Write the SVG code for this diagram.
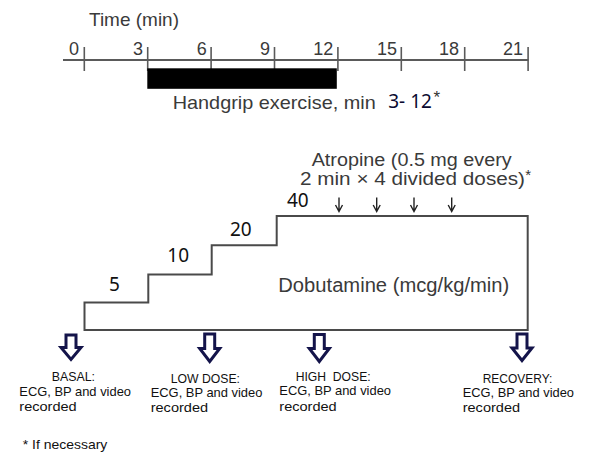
<svg xmlns="http://www.w3.org/2000/svg" width="594" height="458" viewBox="0 0 594 458">
<style>
.ax{stroke:#5a5a5a;stroke-width:2;fill:none}
.tk{stroke:#5a5a5a;stroke-width:1.6}
.lbl{font-family:"Liberation Sans",Arial,sans-serif;fill:#3a3a3a}
.num{font-family:"Liberation Sans",Arial,sans-serif;font-size:18px;fill:#3a3a3a;text-anchor:end}
.dose{font-family:"Noto Sans","DejaVu Sans",sans-serif;font-size:19px;fill:#111}
.cap{font-family:"Liberation Sans",Arial,sans-serif;font-size:13px;fill:#111}
.big{fill:#fff;stroke:#14144a;stroke-width:3;stroke-linejoin:miter}
.sm{stroke:#222;stroke-width:1.4;fill:none}
</style>
<rect width="594" height="458" fill="#fff"/>
<g id="timeline">
<text class="lbl" x="89" y="26" font-size="19" textLength="90" lengthAdjust="spacingAndGlyphs">Time (min)</text>
<line class="ax" x1="63" y1="60" x2="528.5" y2="60"/>
<g class="tk">
<line x1="84.3" y1="47" x2="84.3" y2="71"/>
<line x1="147.7" y1="47" x2="147.7" y2="71"/>
<line x1="211.1" y1="47" x2="211.1" y2="71"/>
<line x1="274.5" y1="47" x2="274.5" y2="71"/>
<line x1="337.9" y1="47" x2="337.9" y2="71"/>
<line x1="401.3" y1="47" x2="401.3" y2="71"/>
<line x1="464.7" y1="47" x2="464.7" y2="71"/>
<line x1="528.1" y1="47" x2="528.1" y2="71"/>
</g>
<text class="num" x="79" y="54.5">0</text>
<text class="num" x="143" y="54.5">3</text>
<text class="num" x="206.7" y="54.5">6</text>
<text class="num" x="270" y="54.5">9</text>
<text class="num" x="333.3" y="54.5">12</text>
<text class="num" x="397" y="54.5">15</text>
<text class="num" x="459" y="54.5">18</text>
<text class="num" x="523" y="54.5">21</text>
</g>
<g id="handgrip">
<rect x="147.3" y="68.3" width="189.5" height="20.5" fill="#000"/>
<text class="lbl" x="172.7" y="109" font-size="19" textLength="203" lengthAdjust="spacingAndGlyphs">Handgrip exercise, min</text>
<text x="388.3" y="108" font-family="'Noto Sans','DejaVu Sans',sans-serif" font-size="20" fill="#0a0a30" textLength="43.5" lengthAdjust="spacingAndGlyphs">3- 12</text>
<text x="433.5" y="103" font-family="'Liberation Sans',Arial,sans-serif" font-size="17" fill="#333">*</text>
</g>
<g id="atropine">
<text class="lbl" x="311.7" y="166.2" font-size="18" textLength="200" lengthAdjust="spacingAndGlyphs">Atropine (0.5 mg every</text>
<text class="lbl" x="300" y="185" font-size="18" textLength="225" lengthAdjust="spacingAndGlyphs">2 min × 4 divided doses)</text>
<text x="525.3" y="180" font-family="'Liberation Sans',Arial,sans-serif" font-size="15" fill="#333">*</text>
</g>
<g id="dobutamine">
<path d="M84.5,330 V302.5 H148.3 V274.5 H211.7 V245.3 H276.7 V216 H527.7 V330 Z" fill="none" stroke="#4a4a4a" stroke-width="2"/>
<text class="lbl" x="278.3" y="291.7" font-size="20" textLength="231" lengthAdjust="spacingAndGlyphs">Dobutamine (mcg/kg/min)</text>
<text class="dose" x="109" y="290.7">5</text>
<text class="dose" x="167.3" y="261.7">10</text>
<text class="dose" x="230" y="235.7">20</text>
<text class="dose" x="287" y="207">40</text>
</g>
<g id="connectors">
<g class="sm">
<path d="M339,197.5 V211.5 M335.5,205 L339,211.5 L342.5,205"/>
<path d="M376.7,197.5 V211.5 M373.2,205 L376.7,211.5 L380.2,205"/>
<path d="M414,197.5 V211.5 M410.5,205 L414,211.5 L417.5,205"/>
<path d="M451.7,197.5 V211.5 M448.2,205 L451.7,211.5 L455.2,205"/>
</g>
<path class="big" d="M66,335 V347.5 H61 L71,359.5 L81,347.5 H76 V335 Z"/>
<path class="big" d="M204.7,334 V348.5 H199.7 L209.7,361.5 L219.7,348.5 H214.7 V334 Z"/>
<path class="big" d="M314.3,334.5 V348.5 H309.3 L319.3,361.5 L329.3,348.5 H324.3 V334.5 Z"/>
<path class="big" d="M517,334 V348 H512 L522,360.5 L532,348 H527 V334 Z"/>
</g>
<g id="basal">
<text class="cap" x="51.7" y="380.7" textLength="43.3" lengthAdjust="spacingAndGlyphs">BASAL:</text>
<text class="cap" x="19.3" y="396" textLength="111.7" lengthAdjust="spacingAndGlyphs">ECG, BP and video</text>
<text class="cap" x="19.3" y="410.7" textLength="57.4" lengthAdjust="spacingAndGlyphs">recorded</text>
</g>
<g id="lowdose">
<text class="cap" x="170.7" y="382.7" textLength="69.3" lengthAdjust="spacingAndGlyphs">LOW DOSE:</text>
<text class="cap" x="150.7" y="397.3" textLength="111.7" lengthAdjust="spacingAndGlyphs">ECG, BP and video</text>
<text class="cap" x="150.7" y="412.3" textLength="57.4" lengthAdjust="spacingAndGlyphs">recorded</text>
</g>
<g id="highdose">
<text class="cap" x="295.7" y="380.7" xml:space="preserve" textLength="75" lengthAdjust="spacingAndGlyphs">HIGH  DOSE:</text>
<text class="cap" x="279.3" y="395.3" textLength="111.7" lengthAdjust="spacingAndGlyphs">ECG, BP and video</text>
<text class="cap" x="279.3" y="410.7" textLength="57.4" lengthAdjust="spacingAndGlyphs">recorded</text>
</g>
<g id="recovery">
<text class="cap" x="482.7" y="382.7" textLength="69.6" lengthAdjust="spacingAndGlyphs">RECOVERY:</text>
<text class="cap" x="462.7" y="397.3" textLength="111.3" lengthAdjust="spacingAndGlyphs">ECG, BP and video</text>
<text class="cap" x="462.7" y="412.3" textLength="57.4" lengthAdjust="spacingAndGlyphs">recorded</text>
</g>
<g id="footnote">
<text class="cap" x="22.7" y="449" textLength="84.6" lengthAdjust="spacingAndGlyphs">* If necessary</text>
</g>
</svg>
